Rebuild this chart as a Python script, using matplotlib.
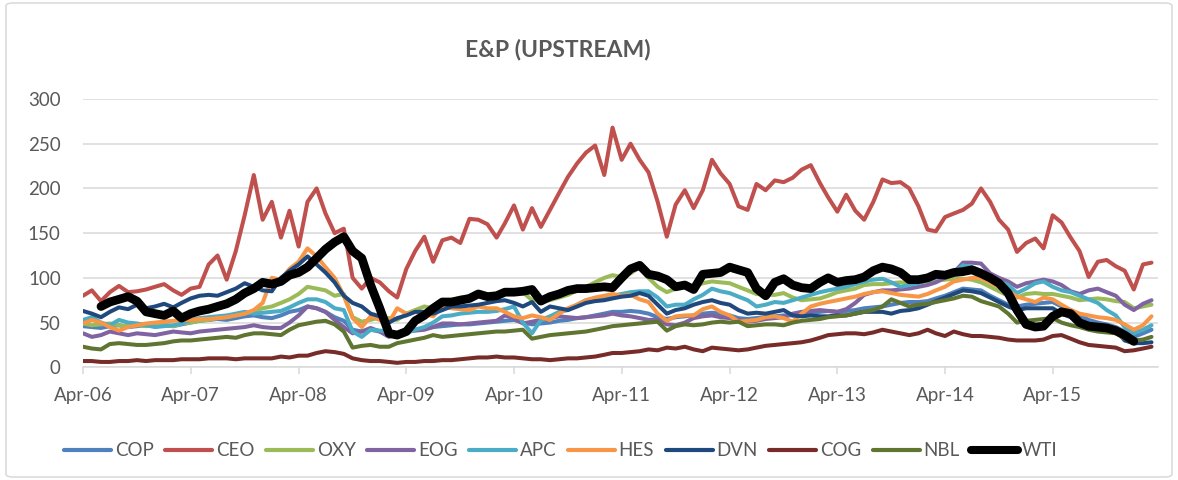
import matplotlib
matplotlib.use('Agg')
import matplotlib.pyplot as plt
import matplotlib.dates as mdates
import numpy as np
import pandas as pd
from matplotlib.patches import FancyBboxPatch
from matplotlib.lines import Line2D

nan = float('nan')

# Monthly observations, Apr-2006 .. Mar-2016
months = pd.date_range('2006-04-01', periods=120, freq='MS')
tick_dates = pd.date_range('2006-04-01', periods=10, freq='12MS')
tick_labels = ['Apr-06', 'Apr-07', 'Apr-08', 'Apr-09', 'Apr-10',
               'Apr-11', 'Apr-12', 'Apr-13', 'Apr-14', 'Apr-15']
y_ticks = [0, 50, 100, 150, 200, 250, 300]

series_names = ['COP', 'CEO', 'OXY', 'EOG', 'APC', 'HES', 'DVN', 'COG', 'NBL', 'WTI']

COP = [46, 45, 44, 46, 47, 45, 46, 47, 48, 47, 46, 48,
       50, 52, 53, 54, 53, 55, 57, 58, 56, 55, 58, 62,
       64, 68, 66, 62, 56, 52, 42, 40, 42, 40, 36, 38,
       40, 42, 44, 45, 46, 47, 48, 48, 49, 50, 51, 52,
       53, 50, 48, 49, 50, 52, 53, 55, 56, 58, 60, 62,
       62, 63, 62, 60, 56, 54, 56, 57, 58, 60, 61, 60,
       58, 55, 54, 55, 56, 57, 58, 58, 59, 60, 62, 63,
       62, 63, 64, 66, 67, 68, 70, 72, 73, 73, 74, 77,
       80, 84, 88, 87, 86, 80, 75, 70, 68, 70, 71, 72,
       73, 68, 64, 58, 53, 50, 48, 45, 40, 34, 38, 42]

CEO = [80, 86, 74, 84, 91, 84, 85, 87, 90, 93, 86, 81,
       88, 90, 115, 125, 98, 130, 170, 215, 165, 185, 145, 175,
       135, 185, 200, 172, 150, 155, 100, 88, 100, 95, 85, 78,
       110, 130, 146, 118, 142, 145, 139, 166, 165, 160, 145, 161,
       181, 154, 178, 157, 176, 195, 213, 228, 240, 248, 215, 268,
       232, 250, 232, 218, 185, 146, 182, 198, 178, 198, 232, 217,
       205, 180, 176, 205, 198, 209, 207, 212, 221, 226, 206, 190,
       174, 193, 175, 165, 185, 210, 206, 207, 200, 180, 154, 152,
       168, 172, 176, 183, 200, 185, 165, 154, 129, 139, 144, 133,
       170, 162, 145, 130, 101, 118, 120, 113, 108, 87, 115, 117]

OXY = [49, 47, 48, 49, 47, 46, 47, 46, 48, 47, 46, 49,
       50, 52, 53, 55, 56, 58, 60, 63, 66, 68, 72, 76,
       82, 90, 88, 86, 80, 82, 56, 51, 53, 56, 55, 53,
       60, 64, 68, 66, 72, 75, 78, 79, 80, 81, 82, 83,
       85, 84, 75, 75, 75, 78, 81, 86, 90, 95, 100, 103,
       101, 105, 112, 100, 90, 84, 88, 92, 90, 94, 96, 95,
       94, 90, 86, 82, 81, 81, 83, 78, 75, 76, 77, 80,
       84, 86, 88, 92, 93, 93, 94, 95, 94, 95, 96, 97,
       98, 99, 99, 98, 95, 90, 85, 80, 78, 82, 83, 82,
       82, 80, 78, 75, 76, 77, 76, 74, 73, 66, 68, 70]

EOG = [38, 34, 36, 40, 38, 36, 38, 37, 36, 38, 40, 39,
       38, 40, 41, 42, 43, 44, 45, 47, 45, 44, 44, 50,
       58, 68, 66, 62, 53, 45, 38, 40, 44, 40, 34, 37,
       40, 41, 42, 45, 49, 49, 48, 49, 50, 51, 52, 58,
       55, 49, 51, 53, 55, 57, 56, 55, 56, 57, 58, 60,
       58, 57, 55, 53, 53, 48, 47, 50, 55, 57, 58, 56,
       55, 53, 51, 52, 54, 55, 56, 60, 62, 63, 64, 63,
       62, 65, 72, 81, 84, 86, 86, 87, 88, 90, 92, 95,
       100, 106, 117, 117, 116, 105, 100, 96, 90, 94, 96, 98,
       96, 92, 85, 82, 86, 88, 84, 80, 70, 64, 71, 75]

APC = [53, 56, 50, 47, 53, 50, 49, 47, 45, 46, 47, 49,
       53, 55, 56, 57, 58, 60, 62, 60, 61, 62, 63, 67,
       72, 76, 76, 73, 66, 64, 40, 34, 42, 41, 40, 34,
       38, 42, 45, 50, 57, 58, 60, 61, 62, 62, 63, 65,
       68, 50, 38, 53, 57, 62, 64, 70, 75, 77, 78, 80,
       82, 84, 85, 85, 78, 68, 70, 70, 76, 81, 88, 85,
       83, 79, 75, 68, 70, 73, 72, 75, 78, 81, 84, 86,
       88, 90, 93, 96, 98, 99, 95, 90, 92, 94, 98, 100,
       103, 106, 114, 112, 108, 102, 96, 92, 83, 88, 94, 96,
       90, 86, 84, 80, 76, 72, 64, 58, 45, 38, 42, 47]

HES = [49, 53, 50, 45, 41, 45, 47, 49, 50, 51, 52, 53,
       53, 54, 54, 55, 56, 58, 60, 64, 72, 100, 98, 110,
       118, 133, 124, 112, 100, 80, 55, 45, 57, 53, 50, 66,
       60, 62, 60, 57, 68, 66, 65, 64, 68, 66, 66, 62,
       57, 55, 58, 56, 53, 60, 66, 70, 75, 78, 80, 82,
       80, 81, 76, 73, 60, 52, 57, 58, 58, 65, 68, 62,
       58, 51, 52, 53, 56, 57, 55, 51, 60, 68, 71, 73,
       75, 77, 79, 82, 84, 85, 83, 81, 80, 79, 82, 86,
       90, 96, 98, 100, 100, 95, 90, 85, 79, 76, 73, 78,
       76, 70, 64, 60, 58, 56, 55, 53, 48, 42, 47, 57]

DVN = [63, 60, 56, 62, 67, 65, 70, 66, 68, 71, 67, 72,
       77, 80, 81, 80, 84, 88, 94, 90, 86, 85, 100, 108,
       115, 124, 115, 106, 95, 80, 72, 68, 60, 57, 50, 55,
       58, 62, 62, 60, 64, 68, 68, 69, 70, 72, 74, 75,
       72, 68, 73, 62, 68, 66, 64, 68, 72, 74, 75, 77,
       79, 80, 83, 80, 70, 60, 64, 66, 70, 73, 75, 72,
       70, 64, 60, 61, 60, 62, 64, 58, 57, 58, 57, 57,
       58, 58, 60, 62, 62, 62, 60, 63, 64, 66, 70, 74,
       78, 82, 86, 85, 83, 78, 73, 68, 64, 66, 66, 66,
       66, 60, 56, 48, 46, 45, 44, 42, 30, 27, 27, 28]

COG = [7, 7, 6, 6, 7, 7, 8, 7, 8, 8, 8, 9,
       9, 9, 10, 10, 10, 9, 10, 10, 10, 10, 12, 11,
       13, 13, 16, 18, 17, 15, 10, 8, 7, 7, 6, 5,
       6, 6, 7, 7, 8, 8, 9, 10, 11, 11, 12, 11,
       11, 10, 9, 9, 8, 9, 10, 10, 11, 12, 14, 16,
       16, 17, 18, 20, 19, 22, 21, 23, 20, 18, 22, 21,
       20, 19, 20, 22, 24, 25, 26, 27, 28, 30, 33, 36,
       37, 38, 38, 37, 39, 42, 40, 38, 36, 38, 42, 38,
       35, 40, 37, 35, 35, 34, 33, 31, 30, 30, 30, 31,
       35, 36, 32, 28, 25, 24, 23, 22, 18, 19, 21, 23]

NBL = [23, 21, 20, 26, 27, 26, 25, 25, 26, 27, 29, 30,
       30, 31, 32, 33, 34, 33, 36, 38, 38, 37, 36, 42,
       47, 49, 51, 52, 48, 40, 22, 24, 25, 23, 23, 27,
       29, 31, 33, 36, 34, 35, 36, 37, 38, 39, 40, 40,
       41, 42, 32, 34, 36, 37, 38, 39, 40, 42, 44, 46,
       47, 48, 49, 50, 51, 41, 46, 48, 47, 48, 50, 51,
       50, 51, 46, 47, 48, 48, 47, 50, 52, 53, 54, 56,
       57, 58, 60, 62, 64, 68, 76, 72, 68, 70, 71, 73,
       75, 77, 80, 79, 74, 71, 68, 60, 50, 52, 53, 54,
       55, 50, 47, 45, 42, 40, 39, 38, 32, 30, 31, 34]

WTI = [nan, nan, 68, 73, 76, 79, 74, 62, 60, 58, 63, 55,
       60, 63, 65, 68, 71, 76, 83, 88, 95, 93, 96, 103,
       106, 112, 122, 132, 140, 146, 130, 122, 92, 66, 38, 36,
       40, 52, 58, 66, 73, 73, 75, 77, 82, 79, 80, 84,
       84, 85, 87, 74, 79, 82, 86, 88, 88, 89, 90, 89,
       100, 110, 114, 104, 102, 98, 90, 92, 87, 104, 105, 106,
       112, 109, 106, 88, 80, 95, 99, 92, 89, 88, 95, 100,
       95, 97, 98, 101, 108, 112, 110, 106, 98, 98, 100, 104,
       103, 106, 107, 109, 105, 100, 94, 83, 64, 48, 45, 46,
       57, 62, 60, 50, 46, 45, 44, 41, 36, 29, nan, nan]

series_values = [COP, CEO, OXY, EOG, APC, HES, DVN, COG, NBL, WTI]
series_colors = ['#4F81BD', '#C0504D', '#9BBB59', '#8064A2', '#4BACC6',
                 '#F79646', '#1F497D', '#772C2A', '#5F7530', '#000000']
series_widths = [2.9, 2.9, 2.9, 2.9, 2.9, 2.9, 2.9, 2.9, 2.9, 6.3]

TEXT = '#595959'
GRID = '#D9D9D9'
FONT = 'Lato'

fig = plt.figure(figsize=(11.78, 4.8), dpi=100)
W, H = 1178.0, 480.0
ax = fig.add_axes([83 / W, (H - 367.3) / H, (1157.7 - 83) / W, (367.3 - 99) / H])

for name, vals, col, lw in zip(series_names, series_values, series_colors, series_widths):
    ax.plot(months, vals, color=col, lw=lw, label=name,
            solid_joinstyle='round', solid_capstyle='round')

ax.set_ylim(0, 300)
ax.set_yticks(y_ticks)
ax.set_xlim(pd.Timestamp('2006-04-01'), pd.Timestamp('2016-03-22'))
ax.set_xticks(tick_dates)
ax.set_xticklabels(tick_labels)

ax.grid(axis='y', color=GRID, lw=1.1)
ax.set_axisbelow(True)
for s in ['top', 'right', 'left']:
    ax.spines[s].set_visible(False)
ax.spines['bottom'].set_color(GRID)
ax.spines['bottom'].set_linewidth(1.1)

ax.tick_params(axis='y', length=0, pad=16, labelsize=13.5, labelcolor=TEXT)
ax.tick_params(axis='x', length=5, width=1.1, color=GRID, pad=9,
               labelsize=13.5, labelcolor=TEXT)
for lab in ax.get_xticklabels() + ax.get_yticklabels():
    lab.set_fontfamily(FONT)

fig.text(558 / W, 1 - 49 / H, 'E&P (UPSTREAM)', ha='center', va='center',
         fontsize=16.5, fontweight='bold', color=TEXT, family=FONT)

handles = [Line2D([0], [0], color=c, lw=(3.0 if lw < 5 else 5.8), solid_capstyle='round')
           for c, lw in zip(series_colors, series_widths)]
leg = fig.legend(handles, series_names, loc='center',
                 bbox_to_anchor=(561 / W, 1 - 451 / H), ncol=10, frameon=False,
                 handlelength=2.5, handletextpad=0.2, columnspacing=0.62,
                 prop={'family': FONT, 'size': 13.5})
for t in leg.get_texts():
    t.set_color(TEXT)

border = FancyBboxPatch((6 / W, 3 / H), (1172 - 6) / W, (477 - 3) / H,
                        boxstyle='round,pad=0,rounding_size=0.006',
                        transform=fig.transFigure, fill=False,
                        edgecolor=GRID, lw=1.1)
fig.patches.append(border)

fig.savefig('out.png', dpi=100, facecolor='white')
